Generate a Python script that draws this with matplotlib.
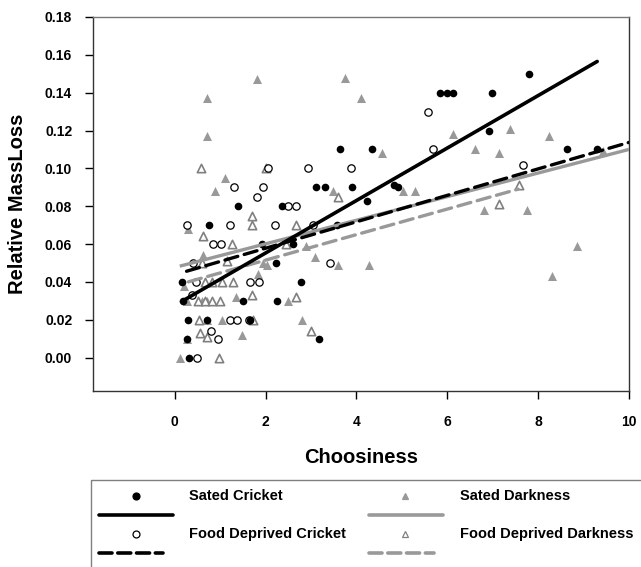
import matplotlib
matplotlib.use("Agg")
import matplotlib.pyplot as plt
from matplotlib.patches import Rectangle
import numpy as np

plt.rcParams['font.family'] = ['Liberation Sans', 'DejaVu Sans']
plt.rcParams['font.weight'] = 'bold'

# Sated Cricket (filled black circles)
sc_x = [0.17, 0.18, 0.29, 0.27, 0.31, 0.70, 0.76, 1.39, 1.50, 1.66, 1.92, 2.22,
        2.24, 2.36, 2.61, 2.79, 3.18, 3.11, 3.30, 3.57, 3.63, 3.91, 4.24, 4.35,
        4.82, 4.92, 5.85, 6.00, 6.13, 6.92, 6.99, 7.80, 8.63, 9.29]
sc_y = [0.04, 0.03, 0.02, 0.01, 0.00, 0.02, 0.07, 0.08, 0.03, 0.02, 0.06, 0.05,
        0.03, 0.08, 0.06, 0.04, 0.01, 0.09, 0.09, 0.07, 0.11, 0.09, 0.083, 0.11,
        0.091, 0.09, 0.14, 0.14, 0.14, 0.12, 0.14, 0.15, 0.11, 0.11]

# Food Deprived Cricket (open circles)
fc_x = [0.27, 0.37, 0.46, 0.40, 0.48, 0.79, 0.95, 0.85, 1.01, 1.21, 1.21, 1.36,
        1.64, 1.30, 1.94, 1.81, 2.05, 1.65, 1.86, 2.21, 2.50, 2.68, 2.94, 3.05,
        3.41, 3.89, 5.57, 5.69, 7.67]
fc_y = [0.07, 0.033, 0.04, 0.05, 0.00, 0.014, 0.01, 0.06, 0.06, 0.07, 0.02, 0.02,
        0.02, 0.09, 0.09, 0.085, 0.10, 0.04, 0.04, 0.07, 0.08, 0.08, 0.10, 0.07,
        0.05, 0.10, 0.13, 0.11, 0.102]

# Sated Darkness (filled grey triangles)
sd_x = [0.11, 0.27, 0.70, 1.03, 1.49, 2.80, 0.26, 0.60, 0.70, 1.34, 2.50, 0.20,
        1.83, 0.62, 1.95, 2.02, 0.29, 0.89, 1.11, 0.71, 0.70, 1.82, 2.90, 3.08,
        3.60, 4.28, 3.49, 3.74, 4.09, 4.57, 5.03, 5.29, 6.13, 6.61, 7.14, 7.38,
        8.24, 6.81, 7.76, 8.86, 8.31, 9.42]
sd_y = [0.00, 0.01, 0.02, 0.02, 0.012, 0.02, 0.03, 0.03, 0.03, 0.032, 0.03, 0.038,
        0.044, 0.054, 0.05, 0.049, 0.068, 0.088, 0.095, 0.117, 0.137, 0.147, 0.059, 0.053,
        0.049, 0.049, 0.088, 0.148, 0.137, 0.108, 0.088, 0.088, 0.118, 0.110, 0.108, 0.121,
        0.117, 0.078, 0.078, 0.059, 0.043, 0.109]

# Food Deprived Darkness (open grey triangles)
fdd_x = [0.98, 0.55, 0.70, 0.54, 1.72, 0.51, 0.66, 0.81, 0.99, 1.70, 2.66, 3.01,
         0.66, 0.81, 1.03, 1.28, 0.60, 1.14, 0.62, 1.25, 2.44, 1.69, 1.69, 2.66,
         0.57, 2.00, 3.60, 7.14, 7.58]
fdd_y = [0.00, 0.013, 0.011, 0.02, 0.02, 0.03, 0.03, 0.03, 0.03, 0.033, 0.032, 0.014,
         0.04, 0.04, 0.04, 0.04, 0.05, 0.051, 0.064, 0.06, 0.06, 0.075, 0.07, 0.07,
         0.10, 0.10, 0.085, 0.081, 0.091]

# regression lines (end points)
sc_fit_x, sc_fit_y = [0.15, 9.3], [0.0296, 0.1565]
fc_fit_x, fc_fit_y = [0.26, 10.0], [0.0456, 0.1137]
sd_fit_x, sd_fit_y = [0.11, 10.0], [0.0483, 0.110]
fdd_fit_x, fdd_fit_y = [0.30, 7.56], [0.040, 0.089]

labels = ['Sated Cricket', 'Sated Darkness', 'Food Deprived Cricket', 'Food Deprived Darkness']

GREY = '#999999'
GREY_EDGE = '#808080'

W, H = 641, 567
fig = plt.figure(figsize=(W / 100, H / 100), dpi=100)
ax = fig.add_axes([93 / W, 1 - 391 / H, (629 - 93) / W, (391 - 17) / H])

ax.scatter(sd_x, sd_y, marker='^', s=6.5 ** 2, color=GREY, linewidths=0, zorder=2)
ax.scatter(fdd_x, fdd_y, marker='^', s=6.0 ** 2, facecolor='white', edgecolor=GREY_EDGE,
           linewidths=1.2, zorder=2)
ax.scatter(fc_x, fc_y, marker='o', s=5.3 ** 2, facecolor='white', edgecolor='black',
           linewidths=0.9, zorder=3)
ax.scatter(sc_x, sc_y, marker='o', s=5.5 ** 2, color='black', linewidths=0, zorder=3)

ax.plot(sd_fit_x, sd_fit_y, color=GREY, lw=2.4, solid_capstyle='butt', zorder=4)
ax.plot(fdd_fit_x, fdd_fit_y, color=GREY, lw=2.4, dashes=(4, 2), dash_capstyle='round', zorder=4)
ax.plot(fc_fit_x, fc_fit_y, color='black', lw=2.4, dashes=(4, 2), dash_capstyle='round', zorder=5)
ax.plot(sc_fit_x, sc_fit_y, color='black', lw=2.6, solid_capstyle='round', zorder=5)

ax.set_xlim(-1.8, 10)
ax.set_ylim(-0.0177, 0.18)
ax.set_xticks([0, 2, 4, 6, 8, 10])
ax.set_yticks(np.arange(0, 0.181, 0.02))
ax.set_yticklabels(['%.2f' % v for v in np.arange(0, 0.181, 0.02)])
ax.tick_params(direction='out', length=6, width=1, labelsize=10, pad=11,
               top=False, right=False)
ax.tick_params(axis='y', pad=9)
for lab in ax.get_xticklabels() + ax.get_yticklabels():
    lab.set_fontweight('bold')
for sp in ax.spines.values():
    sp.set_linewidth(1)
    sp.set_color('#333333')
ax.spines['top'].set_color('#777777')
ax.set_xlabel('Choosiness', fontsize=14.5, fontweight='bold', labelpad=14)
ax.set_ylabel('Relative MassLoss', fontsize=14.5, fontweight='bold', labelpad=13)

# legend drawn in figure pixel coordinates
lax = fig.add_axes([0, 0, 1, 1])
lax.set_xlim(0, W)
lax.set_ylim(H, 0)
lax.axis('off')
lax.add_patch(Rectangle((90.7, 479.7), 560, 100, fill=False, edgecolor='#808080', lw=1))

col_marker = [136, 405]
col_text = [189, 460]
col_line0 = [99, 369]
row_marker = [496, 533.7]
row_line = [514.7, 552.7]
solid_end = [173, 443]
dash_end = [163, 434]

styles = [
    dict(marker='o', mfc='black', mec='black', color='black', grey=False),
    dict(marker='^', mfc=GREY, mec=GREY, color=GREY, grey=True),
    dict(marker='o', mfc='white', mec='black', color='black', grey=False),
    dict(marker='^', mfc='white', mec=GREY_EDGE, color=GREY, grey=True),
]
for i, (lab, st) in enumerate(zip(labels, styles)):
    c = i % 2
    r = i // 2
    lax.plot([col_marker[c]], [row_marker[r]], marker=st['marker'], ms=5,
             mfc=st['mfc'], mec=st['mec'], mew=0.9, ls='none')
    lax.text(col_text[c], row_marker[r], lab, fontsize=10.5, fontweight='bold',
             va='center', ha='left')
    if r == 0:
        lax.plot([col_line0[c], solid_end[c]], [row_line[r]] * 2, color=st['color'],
                 lw=2.6, solid_capstyle='round')
    else:
        lax.plot([col_line0[c], dash_end[c]], [row_line[r]] * 2, color=st['color'],
                 lw=2.6, dashes=(3.6, 1.6), dash_capstyle='round')

fig.savefig('out.png', dpi=100)
